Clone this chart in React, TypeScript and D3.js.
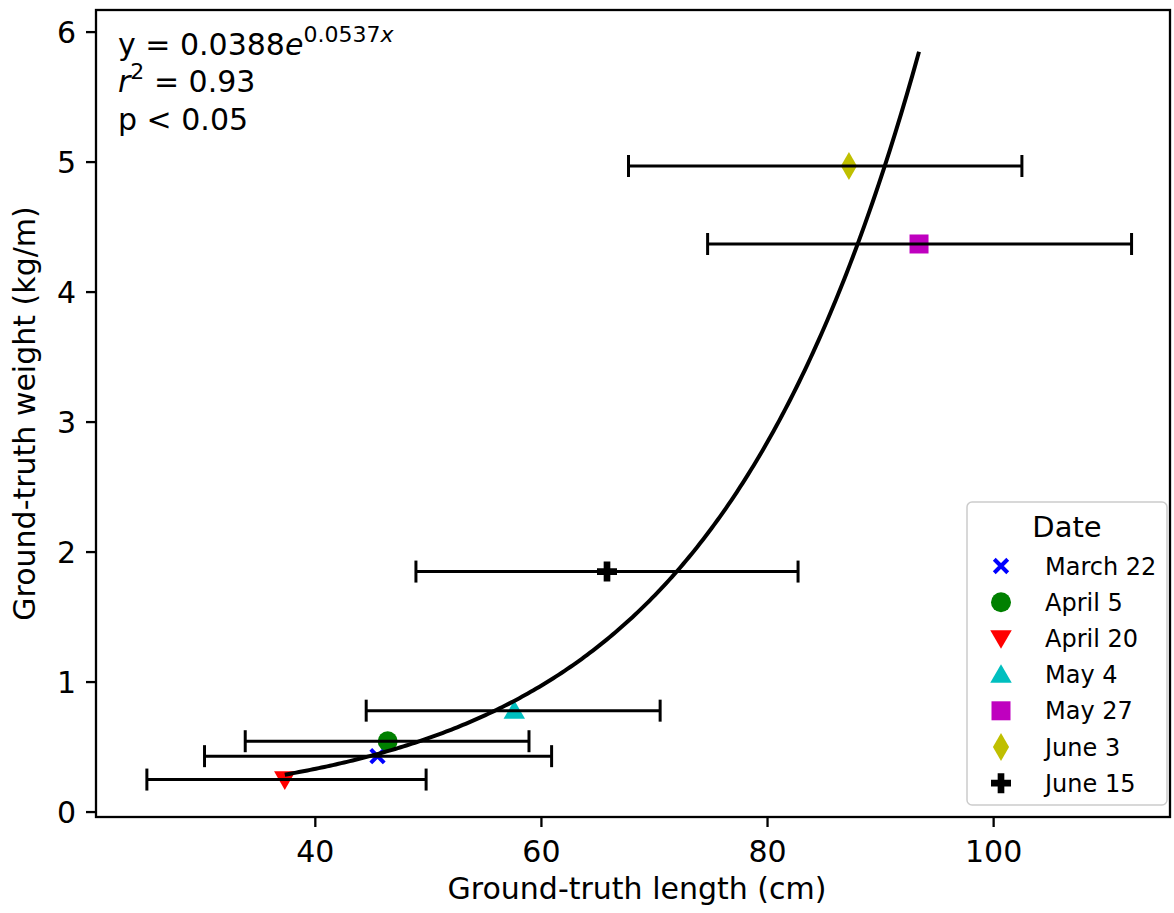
import * as d3 from 'd3';

const dates = ['March 22', 'April 5', 'April 20', 'May 4', 'May 27', 'June 3', 'June 15'];
const lengthMean = [45.5, 46.4, 37.3, 57.6, 93.4, 87.2, 65.8];
const weightMean = [0.43, 0.545, 0.25, 0.78, 4.37, 4.97, 1.85];
const lengthLow = [30.2, 33.8, 25.1, 44.5, 74.7, 67.7, 48.9];
const lengthHigh = [60.9, 58.9, 49.8, 70.5, 112.2, 102.5, 82.7];
const markerKinds = ['x', 'circle', 'triDown', 'triUp', 'square', 'diamond', 'plus'];
const markerColors = ['#0000ff', '#008000', '#ff0000', '#00bfbf', '#bf00bf', '#bfbf00', '#000000'];

const xTicks = [40, 60, 80, 100];
const yTicks = [0, 1, 2, 3, 4, 5, 6];

// fitted model y = a * e^(b x)
const fitA = 0.0388;
const fitB = 0.0537;

const width = 1174;
const height = 913;
const plot = { left: 96, right: 1170, top: 10, bottom: 817 };
const FONT = '"DejaVu Sans", sans-serif';
const fs = 30;

function Marker({ kind, color, cx, cy }: { kind: string; color: string; cx: number; cy: number }) {
    const t = `translate(${cx},${cy})`;
    if (kind === 'x') {
        return <path transform={t} d={d3.symbol(d3.symbolX, 120)()!} fill="none" stroke={color} strokeWidth={4} />;
    }
    if (kind === 'triDown') {
        return <path transform={`${t} rotate(180) translate(0,2)`} d={d3.symbol(d3.symbolTriangle, 200)()!} fill={color} />;
    }
    if (kind === 'triUp') {
        return <path transform={`${t} translate(0,2)`} d={d3.symbol(d3.symbolTriangle, 200)()!} fill={color} />;
    }
    if (kind === 'square') {
        return <path transform={t} d={d3.symbol(d3.symbolSquare, 361)()!} fill={color} />;
    }
    if (kind === 'diamond') {
        return <path transform={t} d={d3.symbol(d3.symbolDiamond, 226)()!} fill={color} />;
    }
    if (kind === 'plus') {
        return <path transform={t} d={d3.symbol(d3.symbolCross, 222)()!} fill={color} />;
    }
    return <path transform={t} d={d3.symbol(d3.symbolCircle, 314)()!} fill={color} />;
}

export default function App() {
    const x = d3.scaleLinear().domain([20.6, 115.6]).range([plot.left, plot.right]);
    const y = d3.scaleLinear().domain([-0.038, 6.17]).range([plot.bottom, plot.top]);

    const xMin = d3.min(lengthMean)!;
    const xMax = d3.max(lengthMean)!;
    const fitX = d3.range(xMin, xMax, 0.25).concat([xMax]);
    const fitLine = d3
        .line<number>()
        .x((v) => x(v))
        .y((v) => y(fitA * Math.exp(fitB * v)))(fitX)!;

    const cap = 11;
    const legendRow = (i: number) => 566 + i * 36.2;

    return (
        <svg width={width} height={height} style={{ position: 'absolute', left: 0, top: 0, background: '#fff' }} fontFamily={FONT}>
            {/* markers */}
            {dates.map((d, i) => (
                <Marker key={d} kind={markerKinds[i]} color={markerColors[i]} cx={x(lengthMean[i])} cy={y(weightMean[i])} />
            ))}

            {/* horizontal error bars */}
            {dates.map((d, i) => {
                const yy = y(weightMean[i]);
                return (
                    <g key={'eb' + d} stroke="#000" strokeWidth={3}>
                        <line x1={x(lengthLow[i])} x2={x(lengthHigh[i])} y1={yy} y2={yy} />
                        <line x1={x(lengthLow[i])} x2={x(lengthLow[i])} y1={yy - cap} y2={yy + cap} />
                        <line x1={x(lengthHigh[i])} x2={x(lengthHigh[i])} y1={yy - cap} y2={yy + cap} />
                    </g>
                );
            })}

            {/* exponential fit */}
            <path d={fitLine} fill="none" stroke="#000" strokeWidth={4} />

            {/* axes frame */}
            <rect x={plot.left} y={plot.top} width={plot.right - plot.left} height={plot.bottom - plot.top} fill="none" stroke="#000" strokeWidth={2.3} />

            {/* x ticks */}
            {xTicks.map((t) => (
                <g key={'xt' + t} transform={`translate(${x(t)},${plot.bottom})`}>
                    <line y1={0} y2={10} stroke="#000" strokeWidth={2.3} />
                    <text y={45} textAnchor="middle" fontSize={fs}>
                        {t}
                    </text>
                </g>
            ))}

            {/* y ticks */}
            {yTicks.map((t) => (
                <g key={'yt' + t} transform={`translate(${plot.left},${y(t)})`}>
                    <line x1={0} x2={-10} stroke="#000" strokeWidth={2.3} />
                    <text x={-20} dy="0.36em" textAnchor="end" fontSize={fs}>
                        {t}
                    </text>
                </g>
            ))}

            {/* axis titles */}
            <text x={(plot.left + plot.right) / 2 + 4} y={899} textAnchor="middle" fontSize={fs}>
                Ground-truth length (cm)
            </text>
            <text transform={`translate(35,${(plot.top + plot.bottom) / 2}) rotate(-90)`} textAnchor="middle" fontSize={fs}>
                Ground-truth weight (kg/m)
            </text>

            {/* fit annotation */}
            <text x={118} y={55} fontSize={fs}>
                y = 0.0388<tspan fontStyle="italic">e</tspan>
                <tspan fontSize={22} dy={-13}>
                    0.0537<tspan fontStyle="italic">x</tspan>
                </tspan>
            </text>
            <text x={118} y={92} fontSize={fs}>
                <tspan fontStyle="italic">r</tspan>
                <tspan fontSize={22} dy={-13}>
                    2
                </tspan>
                <tspan dy={13}> = 0.93</tspan>
            </text>
            <text x={118} y={130} fontSize={fs}>
                p &lt; 0.05
            </text>

            {/* legend */}
            <rect x={967} y={502} width={200} height={303} rx={5} fill="#fff" fillOpacity={0.8} stroke="#cccccc" strokeWidth={1.5} />
            <text x={1067} y={537} textAnchor="middle" fontSize={29}>
                Date
            </text>
            {dates.map((d, i) => (
                <g key={'lg' + d}>
                    <Marker kind={markerKinds[i]} color={markerColors[i]} cx={1001} cy={legendRow(i)} />
                    <text x={1045} y={legendRow(i)} dy="0.36em" fontSize={24}>
                        {d}
                    </text>
                </g>
            ))}
        </svg>
    );
}
